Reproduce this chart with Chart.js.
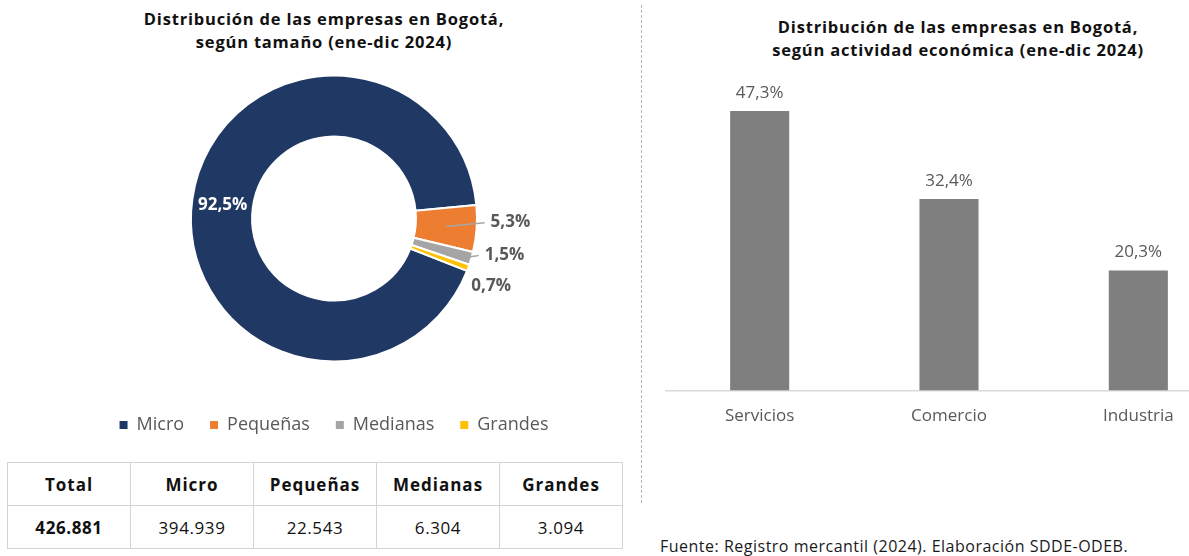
<!DOCTYPE html>
<html lang="es">
<head>
<meta charset="utf-8">
<script src="https://cdn.jsdelivr.net/npm/chart.js@4.4.1/dist/chart.umd.min.js"></script>
<style>
  html, body { margin: 0; padding: 0; background: #fff; }
  body { width: 1189px; height: 556px; position: relative; overflow: hidden; font-family: "Open Sans", sans-serif; }
  .title { position: absolute; text-align: center; font-weight: bold; font-size: 16.5px; letter-spacing: 0.8px; line-height: 23px; color: #111; }
  #title-left { left: 24px; width: 600px; top: 7px; }
  #title-right { left: 658px; width: 600px; top: 15px; }
  #sep { position: absolute; left: 641px; top: 5px; height: 498px; border-left: 1px dashed #b5b5b5; }
  #donut { position: absolute; left: 0; top: 47px; }
  #bars { position: absolute; left: 665px; top: 55px; }
  #tabla { position: absolute; left: 7px; top: 462px; width: 616px; border-collapse: collapse; font-size: 17px; color: #111; }
  #tabla td, #tabla th { border: 1px solid #d4d4d4; text-align: center; width: 20%; padding: 0; }
  #tabla th { height: 42px; font-weight: bold; letter-spacing: 1px; }
  #tabla td { height: 42px; letter-spacing: 0.6px; }
  #tabla td:first-child { font-weight: bold; }
  #fuente { position: absolute; left: 660px; top: 535px; font-size: 16px; letter-spacing: 0.5px; color: #1a1a1a; white-space: nowrap; }
</style>
</head>
<body>
<div class="title" id="title-left">Distribución de las empresas en Bogotá,<br>según tamaño (ene-dic 2024)</div>
<div class="title" id="title-right">Distribución de las empresas en Bogotá,<br>según actividad económica (ene-dic 2024)</div>
<div id="sep"></div>
<canvas id="donut" width="668" height="397"></canvas>
<canvas id="bars" width="568" height="386"></canvas>
<table id="tabla"><thead><tr id="head-row"></tr></thead><tbody><tr id="value-row"></tr></tbody></table>
<div id="fuente">Fuente: Registro mercantil (2024). Elaboración SDDE-ODEB.</div>
<script>
// data
const sizeLabels = ['Micro', 'Pequeñas', 'Medianas', 'Grandes'];
const sizeCounts = [394939, 22543, 6304, 3094];
const totalCompanies = 426881;
const sizeColors = ['#203864', '#ED7D31', '#A5A5A5', '#FFC000'];

const activityLabels = ['Servicios', 'Comercio', 'Industria'];
const activityShares = [47.3, 32.4, 20.3];

Chart.defaults.font.family = '"Open Sans", sans-serif';

const fmtInt = n => String(n).replace(/\B(?=(\d{3})+(?!\d))/g, '.');
const fmtPct = v => v.toFixed(1).replace('.', ',') + '%';

// table under the doughnut
const headRow = document.getElementById('head-row');
const valueRow = document.getElementById('value-row');
['Total'].concat(sizeLabels).forEach(t => {
    const th = document.createElement('th');
    th.textContent = t;
    headRow.appendChild(th);
});
[totalCompanies].concat(sizeCounts).forEach(n => {
    const td = document.createElement('td');
    td.textContent = fmtInt(n);
    valueRow.appendChild(td);
});

// percentage labels on the doughnut
const donutLabels = {
    id: 'donutLabels',
    afterDatasetsDraw(chart) {
        const ctx = chart.ctx;
        const meta = chart.getDatasetMeta(0);
        let lastY = -Infinity;
        ctx.save();
        ctx.font = 'bold 17px "Open Sans"';
        ctx.textBaseline = 'middle';
        meta.data.forEach((arc, i) => {
            const p = arc.getProps(['x', 'y', 'startAngle', 'endAngle', 'innerRadius', 'outerRadius'], true);
            const share = sizeCounts[i] / totalCompanies;
            const text = fmtPct(share * 100);
            const mid = (p.startAngle + p.endAngle) / 2;
            if (share > 0.5) {
                const c = arc.tooltipPosition(true);
                ctx.fillStyle = '#ffffff';
                ctx.textAlign = 'center';
                ctx.fillText(text, c.x, c.y + 2);
                return;
            }
            const r = p.outerRadius + 14;
            let tx = p.x + Math.cos(mid) * r;
            let ty = p.y + Math.sin(mid) * r - 7;
            let pushed = false;
            if (ty < lastY + 31) {
                ty = lastY + 31;
                tx -= 10;
                pushed = true;
            }
            lastY = ty;
            if (!pushed) {
                const r0 = share >= 0.03 ? (p.innerRadius + p.outerRadius) / 2 : p.outerRadius - 4;
                ctx.strokeStyle = '#A6A6A6';
                ctx.lineWidth = 1.5;
                ctx.beginPath();
                ctx.moveTo(p.x + Math.cos(mid) * r0, p.y + Math.sin(mid) * r0);
                ctx.lineTo(tx - 6, ty);
                ctx.stroke();
            }
            ctx.fillStyle = '#595959';
            ctx.textAlign = 'left';
            ctx.fillText(text, tx, ty);
        });
        ctx.restore();
    }
};

new Chart(document.getElementById('donut'), {
    type: 'doughnut',
    data: {
        labels: sizeLabels,
        datasets: [{
            data: sizeCounts,
            backgroundColor: sizeColors,
            borderColor: '#ffffff',
            borderWidth: 2
        }]
    },
    options: {
        responsive: false,
        animation: false,
        events: [],
        rotation: 111.5,
        radius: 143,
        cutout: '57.3%',
        plugins: {
            tooltip: { enabled: false },
            legend: {
                position: 'bottom',
                labels: {
                    boxWidth: 8,
                    boxHeight: 8,
                    padding: 26,
                    color: '#595959',
                    font: { size: 18 },
                    generateLabels: chart => Chart.overrides.doughnut.plugins.legend.labels
                        .generateLabels(chart).map(l => ({ ...l, lineWidth: 0 }))
                }
            }
        }
    },
    plugins: [donutLabels]
});

// value labels above the bars
const barLabels = {
    id: 'barLabels',
    afterDatasetsDraw(chart) {
        const ctx = chart.ctx;
        ctx.save();
        ctx.font = '17px "Open Sans"';
        ctx.fillStyle = '#595959';
        ctx.textAlign = 'center';
        ctx.textBaseline = 'middle';
        chart.getDatasetMeta(0).data.forEach((bar, i) => {
            ctx.fillText(fmtPct(activityShares[i]), bar.x, bar.y - 18);
        });
        ctx.restore();
    }
};

new Chart(document.getElementById('bars'), {
    type: 'bar',
    data: {
        labels: activityLabels,
        datasets: [{
            data: activityShares,
            backgroundColor: '#7F7F7F',
            categoryPercentage: 1,
            barPercentage: 0.312
        }]
    },
    options: {
        responsive: false,
        animation: false,
        events: [],
        layout: { padding: { top: 40, left: 0, right: 0, bottom: 0 } },
        plugins: { legend: { display: false }, tooltip: { enabled: false } },
        scales: {
            y: { display: false, min: 0, max: 50 },
            x: {
                grid: { display: false, drawTicks: false },
                border: { display: true, color: '#D9D9D9', width: 1.5 },
                ticks: { color: '#595959', font: { size: 17 }, padding: 15 }
            }
        }
    },
    plugins: [barLabels]
});
</script>
</body>
</html>
